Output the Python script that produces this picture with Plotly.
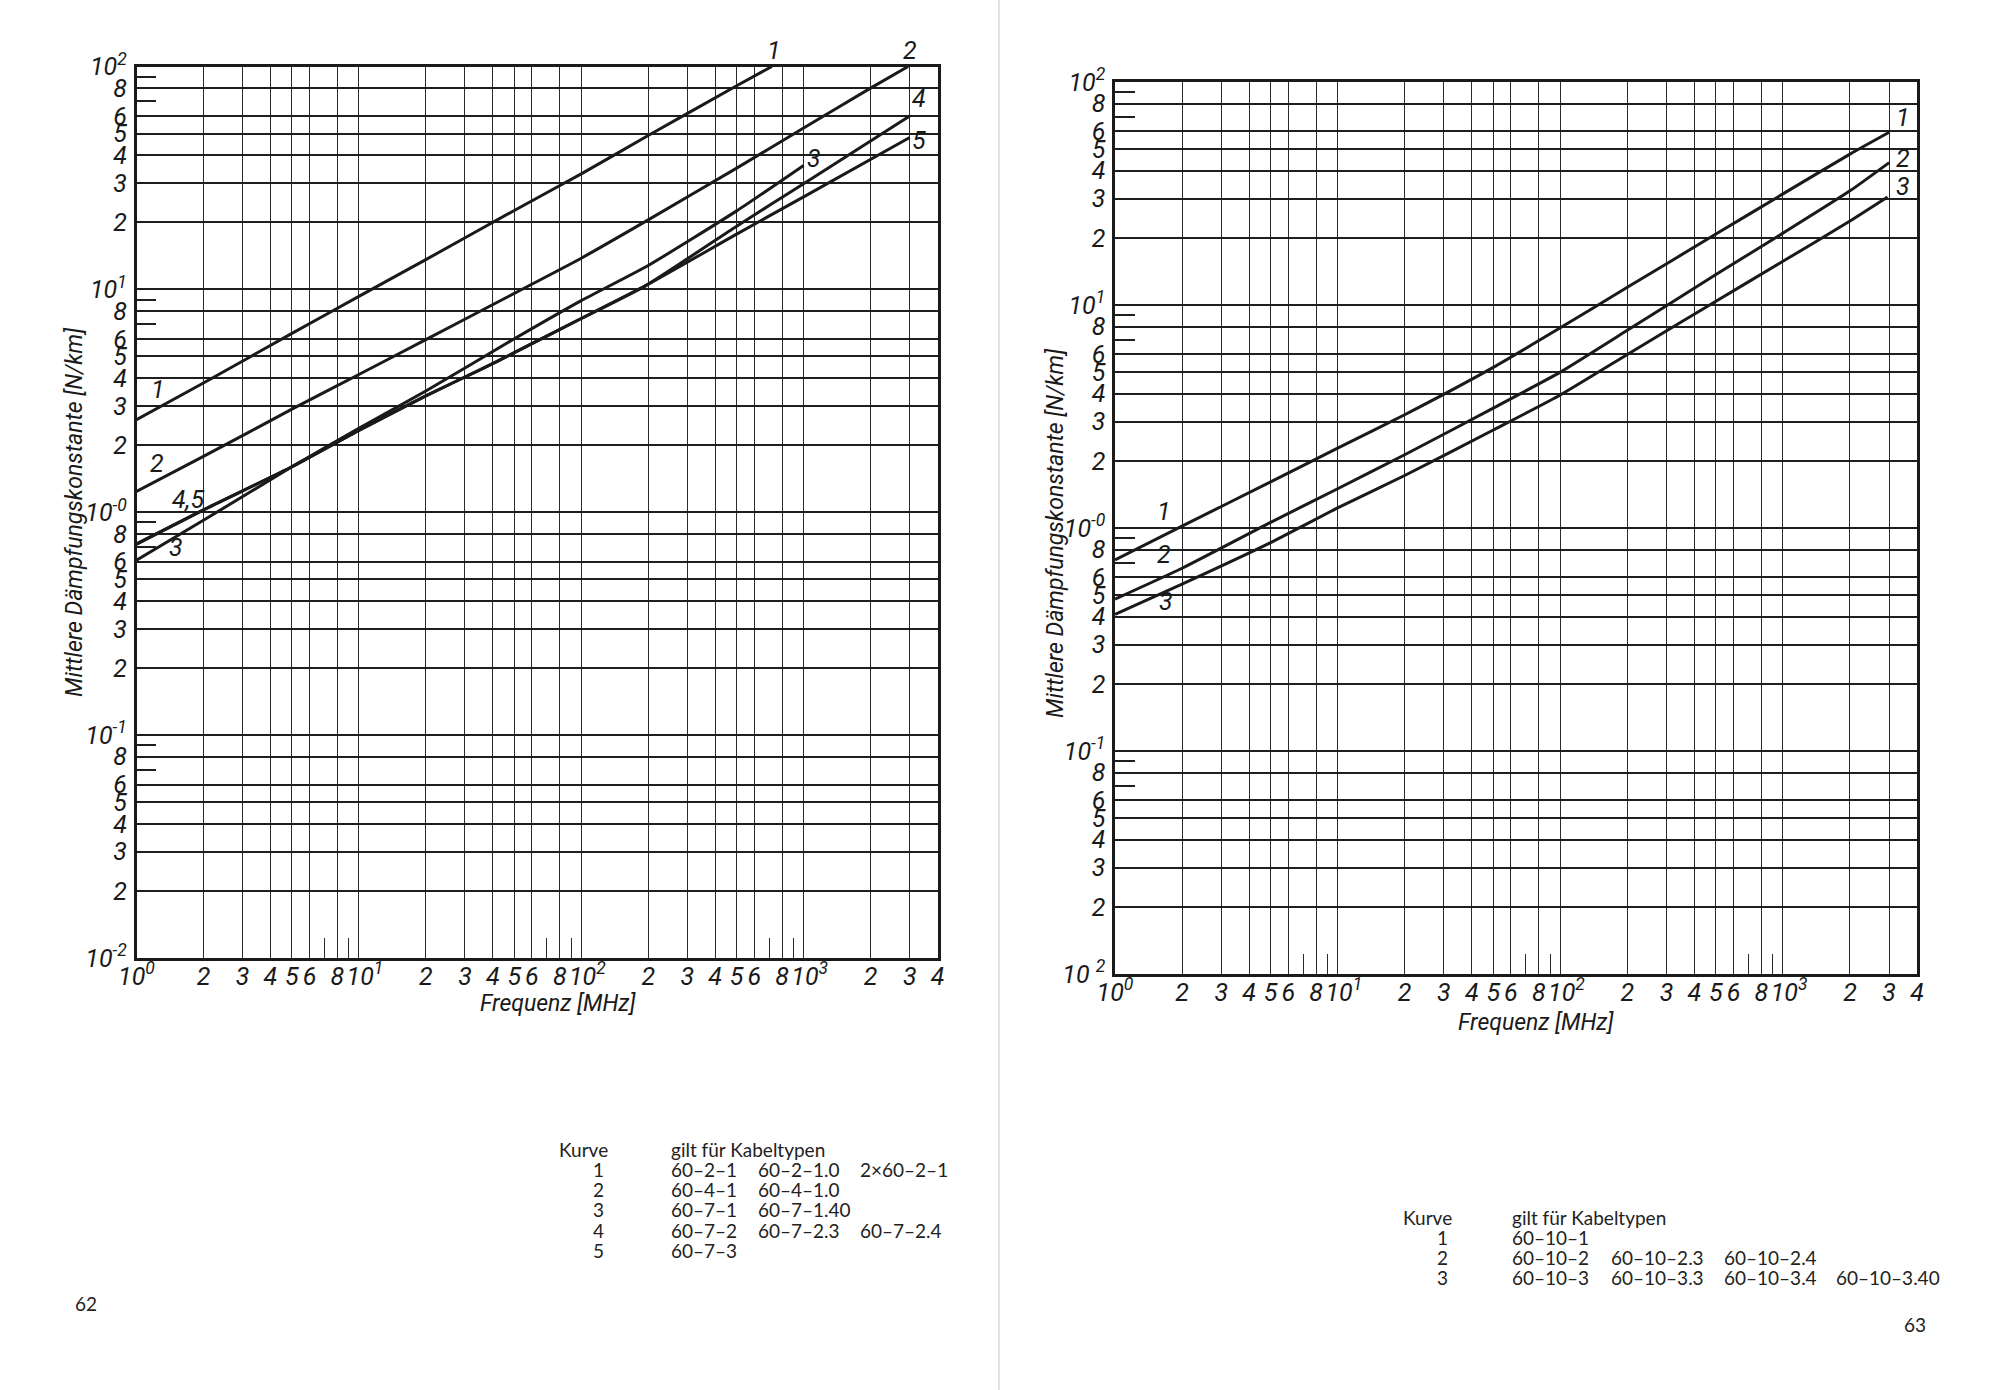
import math
import plotly.graph_objects as go

# ---------------- data ----------------
# Left page (62): Kurve 1..5  (frequency in MHz, attenuation in N/km)
freq_l1 = [1, 2, 5, 10, 20, 50, 100, 200, 500, 720]
att_l1 = [2.6, 3.8, 6.35, 9.3, 13.6, 22.6, 33, 49, 82, 100]
freq_l2 = [1, 2, 5, 10, 20, 50, 100, 200, 500, 1000, 2000, 2950]
att_l2 = [1.24, 1.78, 2.9, 4.15, 5.95, 9.6, 13.8, 20.5, 35, 53, 80, 100]
freq_l3 = [1, 2, 5, 10, 20, 50, 100, 200, 500, 1000]
att_l3 = [0.61, 0.92, 1.6, 2.38, 3.5, 6.0, 8.9, 12.8, 22.5, 36]
freq_l4 = [1, 2, 5, 10, 20, 35, 50, 100, 195, 500, 1000, 3000]
att_l4 = [0.72, 1.025, 1.6, 2.33, 3.33, 4.35, 5.2, 7.4, 10.4, 19.2, 29.8, 60]
freq_l5 = [1, 2, 5, 10, 20, 35, 50, 100, 195, 500, 1000, 3000]
att_l5 = [0.72, 1.025, 1.6, 2.33, 3.33, 4.35, 5.2, 7.4, 10.4, 17.7, 26, 48]

# Right page (63): Kurve 1..3
freq_r1 = [1, 2, 5, 10, 20, 50, 100, 200, 500, 1000, 2000, 3000]
att_r1 = [0.72, 1.02, 1.61, 2.28, 3.22, 5.25, 7.9, 12.0, 20.8, 31.5, 47.5, 59.5]
freq_r2 = [1, 2, 5, 10, 20, 50, 100, 200, 500, 1000, 2000, 3000]
att_r2 = [0.48, 0.66, 1.06, 1.5, 2.13, 3.45, 5.0, 7.7, 13.7, 21, 32.5, 43.5]
freq_r3 = [1, 2, 5, 10, 20, 50, 100, 200, 500, 1000, 2000, 2950]
att_r3 = [0.41, 0.56, 0.86, 1.23, 1.72, 2.75, 3.95, 6.0, 10.4, 15.7, 23.8, 30.5]

# Axis grid / tick labels
NB = "\u00a0\u00a0"
x_tickvals = [1, 2, 3, 4, 5, 6, 8, 10, 20, 30, 40, 50, 60, 80,
              100, 200, 300, 400, 500, 600, 800, 1000, 2000, 3000, 4000]
x_ticktext = ["10<sup>0</sup>", "2", "3", "4", "5", "6", "8",
              NB + "10<sup>1</sup>", "2", "3", "4", "5", "6", "8",
              NB + "10<sup>2</sup>", "2", "3", "4", "5", "6", "8",
              NB + "10<sup>3</sup>", "2", "3", "4"]
x_minorvals = [7, 9, 70, 90, 700, 900]

y_tickvals = [0.01, 0.02, 0.03, 0.04, 0.05, 0.06, 0.08,
              0.1, 0.2, 0.3, 0.4, 0.5, 0.6, 0.8,
              1, 2, 3, 4, 5, 6, 8,
              10, 20, 30, 40, 50, 60, 80, 100]
y_ticktext_left = ["10<sup>-2</sup>", "2", "3", "4", "5", "6", "8",
                   "10<sup>-1</sup>", "2", "3", "4", "5", "6", "8",
                   "10<sup>-0</sup>", "2", "3", "4", "5", "6", "8",
                   "10<sup>1</sup>", "2", "3", "4", "5", "6", "8",
                   "10<sup>2</sup>"]
y_ticktext_right = ["10 <sup>2</sup>"] + y_ticktext_left[1:]
y_minorvals = [0.07, 0.09, 0.7, 0.9, 7, 9, 70, 90]

table_left = [
    ("1", ["60–2–1", "60–2–1.0", "2×60–2–1"]),
    ("2", ["60–4–1", "60–4–1.0"]),
    ("3", ["60–7–1", "60–7–1.40"]),
    ("4", ["60–7–2", "60–7–2.3", "60–7–2.4"]),
    ("5", ["60–7–3"]),
]
table_right = [
    ("1", ["60–10–1"]),
    ("2", ["60–10–2", "60–10–2.3", "60–10–2.4"]),
    ("3", ["60–10–3", "60–10–3.3", "60–10–3.4", "60–10–3.40"]),
]

# ---------------- styling ----------------
W, H = 1990, 1390
TECH = "Liberation Sans Narrow, Roboto, Liberation Sans, sans-serif"
TABLEFONT = "Lato, Open Sans, sans-serif"
INK = "#1a1a1a"
XMAX = math.log10(4000)


def px(x):
    return x / W


def py(y):
    return 1 - y / H


dom_x1 = [px(136.5), px(937.5)]
dom_y1 = [py(958), py(66.5)]
dom_x2 = [px(1115), px(1917)]
dom_y2 = [py(974), py(82)]

fig = go.Figure()

curve_style = dict(mode="lines", line=dict(color=INK, width=3, shape="spline", smoothing=0.5),
                   showlegend=False, hoverinfo="skip")
for fx, ay in [(freq_l1, att_l1), (freq_l2, att_l2), (freq_l3, att_l3),
               (freq_l4, att_l4), (freq_l5, att_l5)]:
    fig.add_trace(go.Scatter(x=fx, y=ay, xaxis="x", yaxis="y", **curve_style))
for fx, ay in [(freq_r1, att_r1), (freq_r2, att_r2), (freq_r3, att_r3)]:
    fig.add_trace(go.Scatter(x=fx, y=ay, xaxis="x2", yaxis="y2", **curve_style))

tickfont = dict(family=TECH, size=25, color=INK, style="italic")


def xaxis(domain, anchor):
    return dict(type="log", range=[0, XMAX], domain=domain, anchor=anchor,
                tickmode="array", tickvals=x_tickvals, ticktext=x_ticktext,
                tickangle=0, ticks="", tickfont=tickfont, ticklabelstandoff=-6,
                automargin=False,
                showgrid=True, gridcolor="#2a2a2a", gridwidth=1.3,
                showline=True, linecolor=INK, linewidth=2.5, mirror=True,
                zeroline=False, fixedrange=True,
                minor=dict(tickmode="array", tickvals=x_minorvals, ticks="inside",
                           ticklen=20, tickwidth=1.3, tickcolor="#2a2a2a", showgrid=False))


def yaxis(domain, anchor, ticktext):
    return dict(type="log", range=[-2, 2], domain=domain, anchor=anchor,
                tickmode="array", tickvals=y_tickvals, ticktext=ticktext,
                ticks="", tickfont=tickfont, ticklabelstandoff=2,
                automargin=False,
                showgrid=True, gridcolor="#1e1e1e", gridwidth=2,
                showline=True, linecolor=INK, linewidth=2.5, mirror=True,
                zeroline=False, fixedrange=True,
                minor=dict(tickmode="array", tickvals=y_minorvals, ticks="inside",
                           ticklen=20, tickwidth=1.5, tickcolor="#1e1e1e", showgrid=False))


fig.update_layout(
    width=W, height=H,
    margin=dict(l=0, r=0, t=0, b=0, autoexpand=False),
    paper_bgcolor="white", plot_bgcolor="white",
    xaxis=xaxis(dom_x1, "y"),
    yaxis=yaxis(dom_y1, "x", y_ticktext_left),
    xaxis2=xaxis(dom_x2, "y2"),
    yaxis2=yaxis(dom_y2, "x2", y_ticktext_right),
)

ann = []
labfont = dict(family=TECH, size=25, color=INK, style="italic")


def to_paper(lx, ly, domx, domy):
    # convert log10 data position to paper coordinates (used for labels above the frame)
    return (domx[0] + lx / XMAX * (domx[1] - domx[0]),
            domy[0] + (ly + 2) / 4 * (domy[1] - domy[0]))


# curve labels (positions in log10 data units)
for (lx, ly, t) in [(2.866, 2.074, "1"), (3.478, 2.074, "2")]:
    ppx, ppy = to_paper(lx, ly, dom_x1, dom_y1)
    ann.append(dict(x=ppx, y=ppy, xref="paper", yref="paper", text=t, showarrow=False,
                    font=labfont, xanchor="center", yanchor="middle"))
for (lx, ly, t) in [(3.52, 1.857, "4"), (3.52, 1.669, "5"), (3.045, 1.589, "3"),
                    (0.098, 0.549, "1"), (0.092, 0.217, "2"), (0.23, 0.057, "4,5"),
                    (0.178, -0.16, "3")]:
    ann.append(dict(x=lx, y=ly, xref="x", yref="y", text=t, showarrow=False,
                    font=labfont, xanchor="center", yanchor="middle"))
for (lx, ly, t) in [(3.54, 1.84, "1"), (3.54, 1.658, "2"), (3.54, 1.533, "3"),
                    (0.218, 0.074, "1"), (0.218, -0.12, "2"), (0.23, -0.33, "3")]:
    ann.append(dict(x=lx, y=ly, xref="x2", yref="y2", text=t, showarrow=False,
                    font=labfont, xanchor="center", yanchor="middle"))

titlefont = dict(family=TECH, size=23, color=INK, style="italic")
for (tx, ty, text, angle) in [(74, 512, "Mittlere Dämpfungskonstante [N/km]", -90),
                              (1056, 533, "Mittlere Dämpfungskonstante [N/km]", -90),
                              (558, 1003, "Frequenz [MHz]", 0),
                              (1536, 1022, "Frequenz [MHz]", 0)]:
    ann.append(dict(x=px(tx), y=py(ty), xref="paper", yref="paper", text=text,
                    textangle=angle, showarrow=False, font=titlefont,
                    xanchor="center", yanchor="middle"))

tfont = dict(family=TABLEFONT, size=19, color="#222")


def add_table(x_num, cols, y0, dy, rows):
    ann.append(dict(x=px(x_num), y=py(y0), xref="paper", yref="paper", text="Kurve",
                    showarrow=False, font=tfont, xanchor="right", yanchor="middle"))
    ann.append(dict(x=px(cols[0]), y=py(y0), xref="paper", yref="paper",
                    text="gilt für Kabeltypen", showarrow=False, font=tfont,
                    xanchor="left", yanchor="middle"))
    for i, (num, types) in enumerate(rows):
        yy = y0 + dy * (i + 1)
        ann.append(dict(x=px(x_num - 4), y=py(yy), xref="paper", yref="paper", text=num,
                        showarrow=False, font=tfont, xanchor="right", yanchor="middle"))
        for j, t in enumerate(types):
            ann.append(dict(x=px(cols[j]), y=py(yy), xref="paper", yref="paper", text=t,
                            showarrow=False, font=tfont, xanchor="left", yanchor="middle"))


add_table(610, [669, 756, 858], 1149, 20.3, table_left)
add_table(1454, [1510, 1609, 1722, 1834], 1217, 20.3, table_right)

ann.append(dict(x=px(86), y=py(1303), xref="paper", yref="paper", text="62",
                showarrow=False, font=tfont, xanchor="center", yanchor="middle"))
ann.append(dict(x=px(1915), y=py(1324), xref="paper", yref="paper", text="63",
                showarrow=False, font=tfont, xanchor="center", yanchor="middle"))

fig.update_layout(annotations=ann)

# page gutter of the scanned book
fig.add_shape(type="line", xref="paper", yref="paper", x0=px(999), x1=px(999), y0=0, y1=1,
              line=dict(color="#d8d8d8", width=1.5))

fig.write_html("out.html", config={"displayModeBar": False},
               post_script="document.body.style.margin='0';document.body.style.overflow='hidden';")
